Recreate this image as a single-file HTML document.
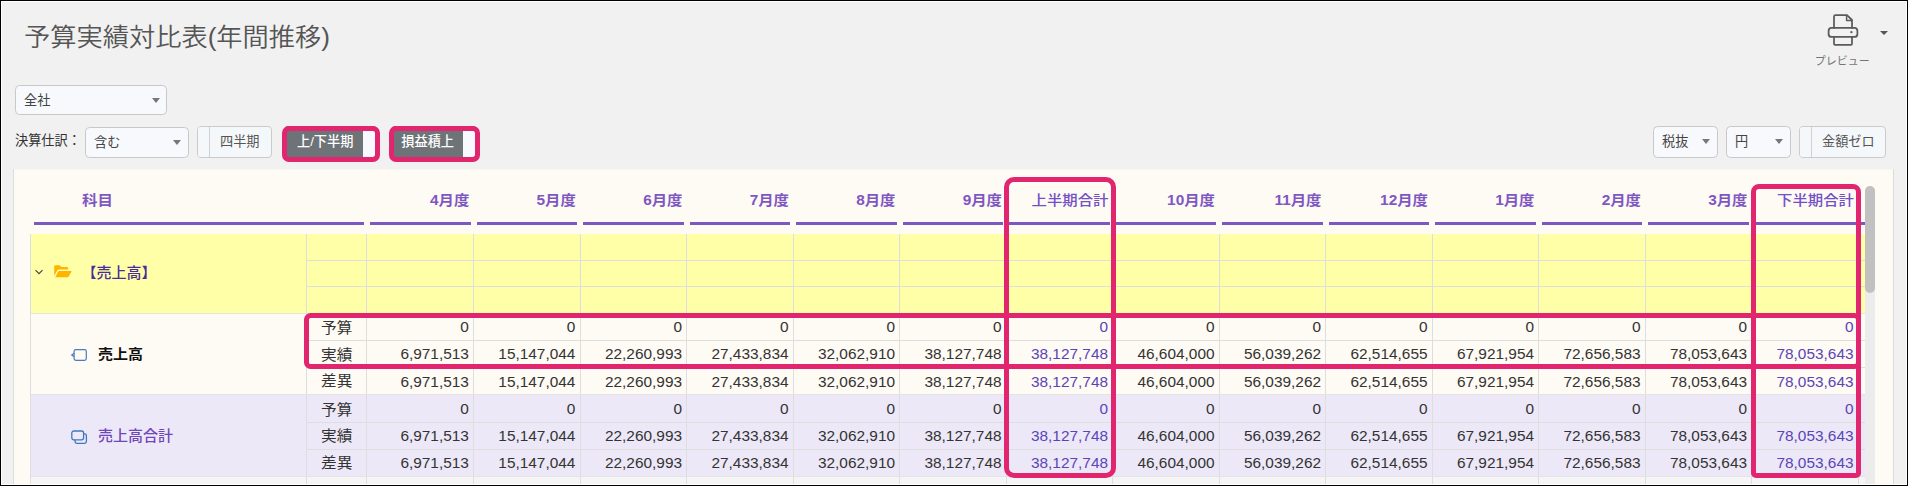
<!DOCTYPE html>
<html lang="ja"><head><meta charset="utf-8"><title>予算実績対比表(年間推移)</title>
<style>
*{box-sizing:border-box;margin:0;padding:0}
html,body{width:1908px;height:486px;overflow:hidden}
body{background:#f1f1f1;font-family:"Liberation Sans","Noto Sans CJK JP",sans-serif;position:relative;color:#333}
.abs{position:absolute}
#frame{left:0;top:0;width:1908px;height:486px;border:1px solid #000;z-index:50;pointer-events:none}
#frame:before{content:"";position:absolute;left:0;top:0;right:0;bottom:0;border:1px solid #fff}
#title{left:23.6px;top:19.2px;font-size:26px;font-weight:350;color:#555;line-height:38px;white-space:nowrap;transform:scale(1.009,0.958);transform-origin:0 0}
.sel{height:31px;border:1px solid #c8c8c8;border-radius:4.5px;background:#f8f9fd;font-size:13.2px;line-height:29px;color:#444;padding-left:8px;white-space:nowrap}
.sel i{position:absolute;top:12px;width:0;height:0;border-left:4.4px solid transparent;border-right:4.4px solid transparent;border-top:5.6px solid #777}
.lbl{font-size:13.2px;color:#333;line-height:20px;white-space:nowrap}
.tg{height:32px;border:1px solid #cbcbcb;border-radius:4px;background:#f5f8fb;font-size:13.2px;line-height:29px;color:#555;white-space:nowrap;overflow:hidden}
.tg b{position:absolute;top:0;bottom:0;width:12px;background:#f5f8fb;font-weight:normal}
.tg.off b{left:0;border-right:1px solid #d0d0d0}
.tg.on{background:#6e7378;border-color:#6e7378;color:#fff;font-weight:500}
.tg.on b{right:0;width:13px;background:#f7f9fc;border-radius:0 3px 3px 0}
.tg span{position:absolute;top:0}
.pk{border:5px solid #e1256f;border-radius:7px;z-index:20}
#panel{left:13px;top:169px;width:1881px;height:330px;background:#fefaf4;border:1px solid #dcdcdc;border-top:none}
.hd{font-size:15.4px;font-weight:700;color:#7e57c2;line-height:20px;white-space:nowrap;text-align:right;transform:scaleY(0.92);transform-origin:100% 50%}
.hd.t{font-weight:500;color:#7250c6}
.hl{height:3px;top:222px;background:#7e57c2}
.vl{width:1px;background:#dedede}
.hz{height:1px;background:#dedede}
.num{font-size:15.4px;line-height:20px;color:#333;text-align:right;white-space:nowrap}
.num.t{color:#5a45b8}
.ty{font-size:15.4px;line-height:20px;color:#333;white-space:nowrap;transform:scale(1.02,0.93);transform-origin:0 50%}
</style></head>
<body>
<div id="title" class="abs">予算実績対比表(年間推移)</div>
<svg class="abs" style="left:1826px;top:12.6px" width="34" height="35" viewBox="0 0 34 35" fill="none" stroke="#5a5a5a" stroke-width="1.75" stroke-linejoin="round" stroke-linecap="round">
<path d="M8 14.9 V3.7 a1.5 1.5 0 0 1 1.5 -1.5 H21 L26 7 V14.9"/>
<path d="M20.6 2.6 V7.4 H25.6" stroke-width="1.5"/>
<rect x="2.6" y="14.9" width="28.8" height="9" rx="3"/>
<path d="M8 23.9 V30.8 a1 1 0 0 0 1 1 H25 a1 1 0 0 0 1 -1 V23.9"/>
<circle cx="25.4" cy="19.2" r="1.15" fill="#5a5a5a" stroke="none"/>
</svg>
<div class="abs" style="left:1880px;top:31.2px;width:0;height:0;border-left:4.2px solid transparent;border-right:4.2px solid transparent;border-top:4.4px solid #555"></div>
<div class="abs" style="left:1799.3px;top:52.5px;width:86px;text-align:center;font-size:11px;line-height:16px;color:#747474;font-weight:400">プレビュー</div>
<div class="abs sel" style="left:15px;top:85px;width:152px;height:30px;line-height:29.6px">全社<i style="left:136px"></i></div>
<div class="abs lbl" style="left:15px;top:131.3px">決算仕訳：</div>
<div class="abs sel" style="left:85px;top:127px;width:104px">含む<i style="left:87px"></i></div>
<div class="abs tg off" style="left:197px;top:126px;width:75px"><b></b><span style="left:22px">四半期</span></div>
<div class="abs tg on" style="left:284px;top:126px;width:93px"><span style="left:12px">上/下半期</span><b></b></div>
<div class="abs tg on" style="left:391px;top:126px;width:86px"><span style="left:9.3px">損益積上</span><b></b></div>
<div class="abs pk" style="left:282px;top:126px;width:98px;height:36px"></div>
<div class="abs pk" style="left:389px;top:126px;width:91px;height:36px"></div>
<div class="abs sel" style="left:1653px;top:126px;width:65px;height:32px">税抜<i style="left:48px"></i></div>
<div class="abs sel" style="left:1726px;top:126px;width:65px;height:32px">円<i style="left:48px"></i></div>
<div class="abs tg off" style="left:1799px;top:126px;width:87px"><b></b><span style="left:22px">金額ゼロ</span></div>
<div id="panel" class="abs"></div>
<div class="abs" style="left:14px;top:169px;width:1879px;height:1px;background:#f8f6f3"></div>
<div class="abs hd" style="left:82px;top:189.9px;text-align:left">科目</div>
<div class="abs hl" style="left:33.5px;width:330.5px"></div>
<div class="abs hd" style="left:366.4px;width:103.0px;top:189.9px">4月度</div>
<div class="abs hl" style="left:370.1px;width:100.8px"></div>
<div class="abs hd" style="left:472.9px;width:103.0px;top:189.9px">5月度</div>
<div class="abs hl" style="left:476.6px;width:100.8px"></div>
<div class="abs hd" style="left:579.5px;width:103.0px;top:189.9px">6月度</div>
<div class="abs hl" style="left:583.1px;width:100.8px"></div>
<div class="abs hd" style="left:686.0px;width:103.0px;top:189.9px">7月度</div>
<div class="abs hl" style="left:689.6px;width:100.8px"></div>
<div class="abs hd" style="left:792.5px;width:103.0px;top:189.9px">8月度</div>
<div class="abs hl" style="left:796.1px;width:100.8px"></div>
<div class="abs hd" style="left:899.0px;width:103.0px;top:189.9px">9月度</div>
<div class="abs hl" style="left:902.6px;width:100.8px"></div>
<div class="abs hd t" style="left:1005.5px;width:103.0px;top:189.9px">上半期合計</div>
<div class="abs hl" style="left:1009.1px;width:100.8px"></div>
<div class="abs hd" style="left:1112.0px;width:103.0px;top:189.9px">10月度</div>
<div class="abs hl" style="left:1115.5px;width:100.8px"></div>
<div class="abs hd" style="left:1218.5px;width:103.0px;top:189.9px">11月度</div>
<div class="abs hl" style="left:1222.0px;width:100.8px"></div>
<div class="abs hd" style="left:1325.0px;width:103.0px;top:189.9px">12月度</div>
<div class="abs hl" style="left:1328.5px;width:100.8px"></div>
<div class="abs hd" style="left:1431.5px;width:103.0px;top:189.9px">1月度</div>
<div class="abs hl" style="left:1435.0px;width:100.8px"></div>
<div class="abs hd" style="left:1538.0px;width:103.0px;top:189.9px">2月度</div>
<div class="abs hl" style="left:1541.5px;width:100.8px"></div>
<div class="abs hd" style="left:1644.5px;width:103.0px;top:189.9px">3月度</div>
<div class="abs hl" style="left:1648.0px;width:100.8px"></div>
<div class="abs hd t" style="left:1751.0px;width:103.0px;top:189.9px">下半期合計</div>
<div class="abs hl" style="left:1754.5px;width:110.0px"></div>
<div class="abs" style="left:31px;top:234px;width:1833.5px;height:79px;background:#ffffa8"></div>
<div class="abs" style="left:31px;top:395px;width:1833.5px;height:82px;background:#ece8f7"></div>
<div class="abs" style="left:31px;top:477px;width:1833.5px;height:10px;background:#f5f5f5"></div>
<div class="abs vl" style="left:30px;top:234px;height:252px"></div>
<div class="abs vl" style="left:306.0px;top:234px;height:252px"></div>
<div class="abs vl" style="left:366.4px;top:234px;height:252px"></div>
<div class="abs vl" style="left:472.9px;top:234px;height:252px"></div>
<div class="abs vl" style="left:579.5px;top:234px;height:252px"></div>
<div class="abs vl" style="left:686.0px;top:234px;height:252px"></div>
<div class="abs vl" style="left:792.5px;top:234px;height:252px"></div>
<div class="abs vl" style="left:899.0px;top:234px;height:252px"></div>
<div class="abs vl" style="left:1005.5px;top:234px;height:252px"></div>
<div class="abs vl" style="left:1112.0px;top:234px;height:252px"></div>
<div class="abs vl" style="left:1218.5px;top:234px;height:252px"></div>
<div class="abs vl" style="left:1325.0px;top:234px;height:252px"></div>
<div class="abs vl" style="left:1431.5px;top:234px;height:252px"></div>
<div class="abs vl" style="left:1538.0px;top:234px;height:252px"></div>
<div class="abs vl" style="left:1644.5px;top:234px;height:252px"></div>
<div class="abs vl" style="left:1751.0px;top:234px;height:252px"></div>
<div class="abs vl" style="left:1857.5px;top:234px;height:252px"></div>
<div class="abs hz" style="left:306px;top:260px;width:1558.5px"></div>
<div class="abs hz" style="left:306px;top:286px;width:1558.5px"></div>
<div class="abs hz" style="left:306px;top:340px;width:1558.5px"></div>
<div class="abs hz" style="left:306px;top:367px;width:1558.5px"></div>
<div class="abs hz" style="left:306px;top:422px;width:1558.5px"></div>
<div class="abs hz" style="left:306px;top:449px;width:1558.5px"></div>
<div class="abs hz" style="left:31px;top:313px;width:1833.5px;background:#e4e4e4"></div>
<div class="abs hz" style="left:31px;top:394px;width:1833.5px;background:#e4e4e4"></div>
<div class="abs hz" style="left:31px;top:476px;width:1833.5px;background:#e4e4e4"></div>
<svg class="abs" style="left:34.3px;top:267.5px" width="10" height="8" viewBox="0 0 10 8" fill="none" stroke="#444" stroke-width="1.15"><path d="M1.5 2.2 L5 5.7 L8.5 2.2"/></svg>
<svg class="abs" style="left:54px;top:265px" width="18" height="13" viewBox="0 0 18 13"><path fill="#ffb400" d="M0.2 11 V1.6 A1.4 1.4 0 0 1 1.6 0.2 H5.6 L7.4 2 H12.8 A1.4 1.4 0 0 1 14.2 3.4 V4.6 H4.6 A1.6 1.6 0 0 0 3.2 5.5 Z"/><path fill="#ffb400" d="M1.2 12.3 L4.2 6.6 A1.2 1.2 0 0 1 5.3 5.9 H16.9 A0.6 0.6 0 0 1 17.4 6.8 L14.7 11.6 A1.3 1.3 0 0 1 13.6 12.3 Z"/></svg>
<div class="abs" style="left:81.5px;top:262.1px;transform:scaleY(0.95);transform-origin:0 50%;font-size:15px;line-height:22px;color:#4a2d9c;font-weight:500;white-space:nowrap">【売上高】</div>
<svg class="abs" style="left:70px;top:348px" width="18" height="14" viewBox="0 0 18 14" fill="none" stroke="#4a7cc0" stroke-width="1.2"><rect x="4.1" y="1.7" width="12.2" height="10.6" rx="1.7"/><path d="M4.1 5.2 L1.7 7 L4.1 8.8" /></svg>
<div class="abs" style="left:98px;top:343.3px;transform:scaleY(0.93);transform-origin:0 50%;font-size:15px;line-height:22px;color:#111;font-weight:700;white-space:nowrap">売上高</div>
<svg class="abs" style="left:70px;top:429px" width="18" height="16" viewBox="0 0 18 16" fill="none" stroke="#3f78bd" stroke-width="1.3"><path d="M5 10.8 V12.6 A1.8 1.8 0 0 0 6.8 14.4 H14.6 A1.8 1.8 0 0 0 16.4 12.6 V6.6 A1.8 1.8 0 0 0 14.6 4.8 H13.6"/><rect x="1.8" y="2" width="11.8" height="8.8" rx="2"/></svg>
<div class="abs" style="left:98px;top:425.1px;transform:scaleY(0.95);transform-origin:0 50%;font-size:15px;line-height:22px;color:#7046b8;font-weight:500;white-space:nowrap">売上高合計</div>
<div class="abs ty" style="left:321px;top:317.8px">予算</div>
<div class="abs num" style="left:366.4px;width:102.5px;top:317.1px">0</div>
<div class="abs num" style="left:472.9px;width:102.5px;top:317.1px">0</div>
<div class="abs num" style="left:579.5px;width:102.5px;top:317.1px">0</div>
<div class="abs num" style="left:686.0px;width:102.5px;top:317.1px">0</div>
<div class="abs num" style="left:792.5px;width:102.5px;top:317.1px">0</div>
<div class="abs num" style="left:899.0px;width:102.5px;top:317.1px">0</div>
<div class="abs num t" style="left:1005.5px;width:102.5px;top:317.1px">0</div>
<div class="abs num" style="left:1112.0px;width:102.5px;top:317.1px">0</div>
<div class="abs num" style="left:1218.5px;width:102.5px;top:317.1px">0</div>
<div class="abs num" style="left:1325.0px;width:102.5px;top:317.1px">0</div>
<div class="abs num" style="left:1431.5px;width:102.5px;top:317.1px">0</div>
<div class="abs num" style="left:1538.0px;width:102.5px;top:317.1px">0</div>
<div class="abs num" style="left:1644.5px;width:102.5px;top:317.1px">0</div>
<div class="abs num t" style="left:1751.0px;width:102.5px;top:317.1px">0</div>
<div class="abs ty" style="left:321px;top:344.5px">実績</div>
<div class="abs num" style="left:366.4px;width:102.5px;top:344.1px">6,971,513</div>
<div class="abs num" style="left:472.9px;width:102.5px;top:344.1px">15,147,044</div>
<div class="abs num" style="left:579.5px;width:102.5px;top:344.1px">22,260,993</div>
<div class="abs num" style="left:686.0px;width:102.5px;top:344.1px">27,433,834</div>
<div class="abs num" style="left:792.5px;width:102.5px;top:344.1px">32,062,910</div>
<div class="abs num" style="left:899.0px;width:102.5px;top:344.1px">38,127,748</div>
<div class="abs num t" style="left:1005.5px;width:102.5px;top:344.1px">38,127,748</div>
<div class="abs num" style="left:1112.0px;width:102.5px;top:344.1px">46,604,000</div>
<div class="abs num" style="left:1218.5px;width:102.5px;top:344.1px">56,039,262</div>
<div class="abs num" style="left:1325.0px;width:102.5px;top:344.1px">62,514,655</div>
<div class="abs num" style="left:1431.5px;width:102.5px;top:344.1px">67,921,954</div>
<div class="abs num" style="left:1538.0px;width:102.5px;top:344.1px">72,656,583</div>
<div class="abs num" style="left:1644.5px;width:102.5px;top:344.1px">78,053,643</div>
<div class="abs num t" style="left:1751.0px;width:102.5px;top:344.1px">78,053,643</div>
<div class="abs ty" style="left:321px;top:371.1px">差異</div>
<div class="abs num" style="left:366.4px;width:102.5px;top:371.6px">6,971,513</div>
<div class="abs num" style="left:472.9px;width:102.5px;top:371.6px">15,147,044</div>
<div class="abs num" style="left:579.5px;width:102.5px;top:371.6px">22,260,993</div>
<div class="abs num" style="left:686.0px;width:102.5px;top:371.6px">27,433,834</div>
<div class="abs num" style="left:792.5px;width:102.5px;top:371.6px">32,062,910</div>
<div class="abs num" style="left:899.0px;width:102.5px;top:371.6px">38,127,748</div>
<div class="abs num t" style="left:1005.5px;width:102.5px;top:371.6px">38,127,748</div>
<div class="abs num" style="left:1112.0px;width:102.5px;top:371.6px">46,604,000</div>
<div class="abs num" style="left:1218.5px;width:102.5px;top:371.6px">56,039,262</div>
<div class="abs num" style="left:1325.0px;width:102.5px;top:371.6px">62,514,655</div>
<div class="abs num" style="left:1431.5px;width:102.5px;top:371.6px">67,921,954</div>
<div class="abs num" style="left:1538.0px;width:102.5px;top:371.6px">72,656,583</div>
<div class="abs num" style="left:1644.5px;width:102.5px;top:371.6px">78,053,643</div>
<div class="abs num t" style="left:1751.0px;width:102.5px;top:371.6px">78,053,643</div>
<div class="abs ty" style="left:321px;top:399.9px">予算</div>
<div class="abs num" style="left:366.4px;width:102.5px;top:398.5px">0</div>
<div class="abs num" style="left:472.9px;width:102.5px;top:398.5px">0</div>
<div class="abs num" style="left:579.5px;width:102.5px;top:398.5px">0</div>
<div class="abs num" style="left:686.0px;width:102.5px;top:398.5px">0</div>
<div class="abs num" style="left:792.5px;width:102.5px;top:398.5px">0</div>
<div class="abs num" style="left:899.0px;width:102.5px;top:398.5px">0</div>
<div class="abs num t" style="left:1005.5px;width:102.5px;top:398.5px">0</div>
<div class="abs num" style="left:1112.0px;width:102.5px;top:398.5px">0</div>
<div class="abs num" style="left:1218.5px;width:102.5px;top:398.5px">0</div>
<div class="abs num" style="left:1325.0px;width:102.5px;top:398.5px">0</div>
<div class="abs num" style="left:1431.5px;width:102.5px;top:398.5px">0</div>
<div class="abs num" style="left:1538.0px;width:102.5px;top:398.5px">0</div>
<div class="abs num" style="left:1644.5px;width:102.5px;top:398.5px">0</div>
<div class="abs num t" style="left:1751.0px;width:102.5px;top:398.5px">0</div>
<div class="abs ty" style="left:321px;top:426.0px">実績</div>
<div class="abs num" style="left:366.4px;width:102.5px;top:426.1px">6,971,513</div>
<div class="abs num" style="left:472.9px;width:102.5px;top:426.1px">15,147,044</div>
<div class="abs num" style="left:579.5px;width:102.5px;top:426.1px">22,260,993</div>
<div class="abs num" style="left:686.0px;width:102.5px;top:426.1px">27,433,834</div>
<div class="abs num" style="left:792.5px;width:102.5px;top:426.1px">32,062,910</div>
<div class="abs num" style="left:899.0px;width:102.5px;top:426.1px">38,127,748</div>
<div class="abs num t" style="left:1005.5px;width:102.5px;top:426.1px">38,127,748</div>
<div class="abs num" style="left:1112.0px;width:102.5px;top:426.1px">46,604,000</div>
<div class="abs num" style="left:1218.5px;width:102.5px;top:426.1px">56,039,262</div>
<div class="abs num" style="left:1325.0px;width:102.5px;top:426.1px">62,514,655</div>
<div class="abs num" style="left:1431.5px;width:102.5px;top:426.1px">67,921,954</div>
<div class="abs num" style="left:1538.0px;width:102.5px;top:426.1px">72,656,583</div>
<div class="abs num" style="left:1644.5px;width:102.5px;top:426.1px">78,053,643</div>
<div class="abs num t" style="left:1751.0px;width:102.5px;top:426.1px">78,053,643</div>
<div class="abs ty" style="left:321px;top:452.5px">差異</div>
<div class="abs num" style="left:366.4px;width:102.5px;top:452.8px">6,971,513</div>
<div class="abs num" style="left:472.9px;width:102.5px;top:452.8px">15,147,044</div>
<div class="abs num" style="left:579.5px;width:102.5px;top:452.8px">22,260,993</div>
<div class="abs num" style="left:686.0px;width:102.5px;top:452.8px">27,433,834</div>
<div class="abs num" style="left:792.5px;width:102.5px;top:452.8px">32,062,910</div>
<div class="abs num" style="left:899.0px;width:102.5px;top:452.8px">38,127,748</div>
<div class="abs num t" style="left:1005.5px;width:102.5px;top:452.8px">38,127,748</div>
<div class="abs num" style="left:1112.0px;width:102.5px;top:452.8px">46,604,000</div>
<div class="abs num" style="left:1218.5px;width:102.5px;top:452.8px">56,039,262</div>
<div class="abs num" style="left:1325.0px;width:102.5px;top:452.8px">62,514,655</div>
<div class="abs num" style="left:1431.5px;width:102.5px;top:452.8px">67,921,954</div>
<div class="abs num" style="left:1538.0px;width:102.5px;top:452.8px">72,656,583</div>
<div class="abs num" style="left:1644.5px;width:102.5px;top:452.8px">78,053,643</div>
<div class="abs num t" style="left:1751.0px;width:102.5px;top:452.8px">78,053,643</div>
<div class="abs pk" style="left:1004px;top:177px;width:112px;height:301px;border-radius:10px"></div>
<div class="abs pk" style="left:1751.2px;top:184px;width:109.9px;height:294px;border-radius:8px 8px 5px 5px"></div>
<div class="abs pk" style="left:304.3px;top:313px;width:1557px;height:56px;border-radius:6.5px"></div>
<div class="abs" style="left:1865px;top:186px;width:10px;height:300px;background:#ececec;border-radius:5px 5px 0 0"></div>
<div class="abs" style="left:1865px;top:186px;width:10px;height:107px;background:#c1c1c1;border-radius:5px"></div>
<div id="frame" class="abs"></div>
</body></html>
